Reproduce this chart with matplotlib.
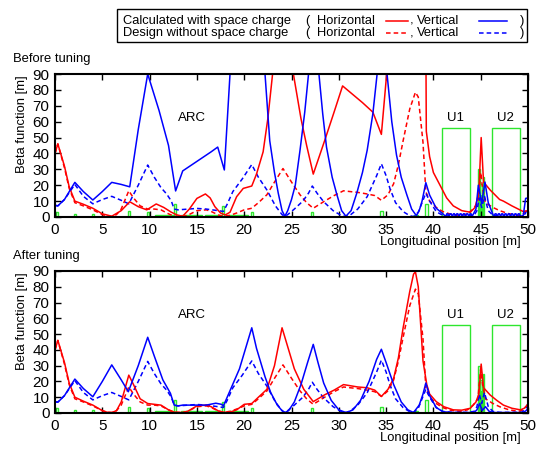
import numpy as np
import matplotlib.pyplot as plt
from matplotlib.lines import Line2D
from matplotlib.patches import Rectangle

# ——— beta functions: (s [m], beta [m]) ———
# design optics without space charge (same curve in both panels)
design_h = [
    (0.0, 40), (0.3, 46), (1.0, 31), (1.5, 18), (2.1, 9), (3.0, 7), (4.0, 4.5),
    (5.0, 1.5), (5.5, 0.5), (6.0, 0.3), (6.5, 1.5), (7.0, 5), (7.8, 16.5),
    (8.3, 12), (9.0, 7), (9.8, 5), (10.5, 5), (11.2, 4.5), (12.0, 2), (12.6, 0.5),
    (13.5, 0.3), (14.0, 1), (15.0, 4), (16.0, 4.5), (16.5, 3.5), (17.3, 1.2),
    (17.8, 0.5), (18.5, 1), (19.2, 2.5), (20.0, 4.5), (20.8, 5.5), (21.5, 9),
    (22.4, 14), (23.1, 21), (24.1, 30.5), (25.0, 22), (25.9, 14), (26.6, 9),
    (27.3, 5.5), (28.5, 10), (29.5, 13.5), (30.5, 16.5), (31.2, 16), (32.0, 15.5),
    (33.0, 14.5), (33.8, 13.5), (34.5, 10.5), (35.2, 14), (35.8, 21), (36.3, 33),
    (36.8, 48), (37.5, 68), (38.1, 78.5), (38.4, 75.5), (38.9, 47), (39.2, 16),
    (39.6, 10), (40.3, 6), (41.0, 3.4), (41.8, 1.8), (42.8, 1), (43.6, 2),
    (44.2, 5), (44.7, 9), (45.0, 28), (45.2, 18), (45.5, 9), (46.3, 6), (47.0, 4),
    (48.0, 2), (49.0, 1), (49.5, 2), (50.0, 5),
]
design_v = [
    (0.0, 7.2), (0.3, 7), (1.0, 11), (2.1, 20.5), (3.0, 13), (4.0, 8.3), (5.0, 11),
    (6.0, 13), (7.0, 10.5), (7.8, 8.3), (8.8, 20), (9.8, 32.7), (10.5, 25),
    (11.2, 18.5), (11.8, 14.5), (12.3, 10), (12.6, 5), (13.0, 4.5), (15.0, 5.4),
    (16.0, 5), (17.0, 4.2), (17.8, 3.5), (18.2, 8), (18.8, 16), (19.8, 24),
    (20.8, 33), (21.5, 25), (22.4, 17), (23.3, 7), (24.0, 1.5), (24.3, 0.3),
    (24.6, 1.5), (25.3, 5), (26.2, 10), (26.8, 15), (27.2, 19.5), (27.7, 15),
    (28.4, 9.6), (29.4, 4), (30.3, 0.8), (30.7, 0.3), (31.2, 1.2), (32.0, 5),
    (33.0, 12.8), (34.0, 26), (34.5, 33.5), (35.0, 26), (35.4, 18), (36.0, 9),
    (36.8, 3.4), (37.5, 0.8), (37.9, 0.3), (38.4, 3), (38.8, 9), (39.2, 15),
    (39.6, 10), (40.3, 3.4), (41.0, 1), (42.0, 0.4), (43.5, 0.4), (44.3, 1),
    (44.6, 4), (44.85, 12), (45.1, 6), (45.4, 13), (45.8, 4), (46.3, 1),
    (47.0, 0.4), (49.3, 0.4), (49.7, 2), (50.0, 6),
]

# calculated with space charge, before tuning
before_h = [
    (0.0, 40), (0.3, 46), (1.0, 32), (1.5, 19), (2.1, 10), (3.0, 8), (4.0, 5.5),
    (5.0, 2), (6.0, 0.5), (7.0, 4), (7.9, 9.6), (8.8, 6.5), (9.7, 4.5),
    (10.7, 8.2), (11.5, 6), (12.3, 3), (12.9, 1.3), (13.5, 0.5), (14.2, 5),
    (15.0, 11.7), (15.9, 14.5), (16.4, 12), (16.9, 6.5), (17.5, 2.5), (18.0, 1.3),
    (18.5, 3), (19.2, 12.8), (19.9, 18), (20.8, 19.5), (21.3, 27), (22.0, 41),
    (22.5, 62), (23.0, 90), (24.0, 160), (25.2, 90), (26.0, 62), (26.6, 45),
    (27.3, 27), (28.5, 48), (29.5, 66), (30.4, 82.5), (31.5, 77), (32.5, 72),
    (33.6, 66), (34.5, 52), (35.06, 90), (36.5, 200), (39.05, 300), (39.25, 54),
    (39.6, 38), (40.0, 28), (40.7, 20), (41.4, 12), (42.1, 7), (43.0, 4),
    (43.9, 3), (44.4, 6), (44.8, 15), (45.05, 50), (45.3, 22), (46.0, 17),
    (47.0, 11), (47.4, 10), (48.3, 7), (48.8, 5.5), (49.5, 3.4), (50.0, 4),
]
before_v = [
    (0.0, 7.5), (0.3, 7), (1.0, 11), (2.1, 21.8), (3.0, 16), (4.0, 10.7),
    (5.0, 16), (6.0, 21.8), (7.0, 20.5), (7.9, 19), (8.8, 55), (9.8, 90),
    (11.0, 67), (12.0, 45), (12.75, 16.4), (13.5, 29), (15.0, 35), (16.5, 41),
    (17.2, 44), (17.9, 29.6), (18.5, 90), (20.3, 250), (22.2, 90), (22.7, 48),
    (23.2, 28), (23.6, 15), (24.0, 4), (24.3, 0.5), (24.6, 4), (25.0, 11),
    (25.4, 20), (25.9, 42), (26.4, 66), (26.8, 90), (27.35, 150), (27.9, 90),
    (28.3, 65), (28.7, 44), (29.3, 25), (29.8, 14), (30.3, 4), (30.75, 0.5),
    (31.3, 4), (31.9, 15), (32.5, 28), (33.0, 42), (33.6, 65), (34.05, 90),
    (34.55, 150), (35.1, 90), (35.6, 60), (36.1, 39), (36.6, 25), (37.2, 13.8),
    (37.7, 5), (38.2, 0.8), (38.5, 4), (38.8, 10), (39.2, 21.6), (39.6, 13.8),
    (40.3, 5.5), (41.0, 2),
    # ripple inside U1
    (41.3, 0.3), (41.42, 2.0), (41.53, 2.0), (41.65, 0.3), (41.77, 2.0),
    (41.88, 2.0), (42.0, 0.3), (42.12, 2.0), (42.23, 2.0), (42.35, 0.3),
    (42.47, 2.0), (42.58, 2.0), (42.7, 0.3), (42.82, 2.0), (42.93, 2.0),
    (43.05, 0.3), (43.17, 2.0), (43.28, 2.0), (43.4, 0.3), (43.52, 2.0),
    (43.63, 2.0), (43.75, 0.3), (43.87, 2.0), (43.98, 2.0), (44.1, 0.5),
    (44.5, 5), (44.75, 20), (45.1, 8.6), (45.45, 22), (45.8, 9), (46.3, 1.5),
    # ripple inside U2
    (46.4, 0.3), (46.52, 2.0), (46.63, 2.0), (46.75, 0.3), (46.87, 2.0),
    (46.98, 2.0), (47.1, 0.3), (47.22, 2.0), (47.33, 2.0), (47.45, 0.3),
    (47.57, 2.0), (47.68, 2.0), (47.8, 0.3), (47.92, 2.0), (48.03, 2.0),
    (48.15, 0.3), (48.27, 2.0), (48.38, 2.0), (48.5, 0.3), (48.62, 2.0),
    (48.73, 2.0), (48.85, 0.3), (48.97, 2.0), (49.08, 2.0), (49.2, 0.3),
    (49.5, 1), (49.75, 11.7), (50.0, 12),
]

# calculated with space charge, after tuning
after_h = [
    (0.0, 40), (0.3, 46), (1.0, 32), (1.5, 19), (2.1, 10), (3.0, 7.5), (4.0, 5),
    (5.0, 1.5), (5.5, 0.5), (6.0, 0.3), (6.5, 1.5), (7.0, 7), (7.8, 24),
    (8.3, 18), (9.0, 9), (9.8, 6), (10.5, 5.5), (11.2, 5), (12.0, 2), (12.6, 0.5),
    (13.5, 0.3), (14.0, 1), (15.0, 4.5), (16.0, 5), (16.5, 4), (17.3, 1.2),
    (17.8, 0.5), (18.5, 0.5), (19.2, 2), (20.0, 5.5), (20.8, 6), (21.5, 10),
    (22.4, 15), (23.2, 30), (24.0, 54), (24.6, 42), (25.3, 28), (26.3, 15),
    (27.3, 7.2), (28.5, 11.5), (29.5, 14.5), (30.5, 18), (31.2, 17.3),
    (32.0, 16.5), (33.0, 16), (33.8, 14.5), (34.5, 10.5), (35.2, 15), (35.8, 22),
    (36.3, 35), (36.8, 54), (37.5, 77), (37.9, 88), (38.1, 89.5), (38.4, 80),
    (38.9, 33), (39.3, 18), (39.6, 12), (40.3, 7.2), (41.1, 4), (42.1, 2),
    (43.0, 1.8), (43.9, 3), (44.5, 7), (44.8, 12), (45.05, 31), (45.3, 16),
    (46.0, 11.4), (46.7, 8), (47.4, 5), (48.3, 3), (49.2, 2), (49.6, 3),
    (49.9, 5), (50.0, 6),
]
after_v = [
    (0.0, 7), (0.3, 6.8), (1.0, 11), (2.1, 21.5), (3.0, 15.5), (4.0, 10.3),
    (5.0, 20), (6.0, 30.5), (7.0, 21), (7.75, 13.5), (8.8, 30), (9.8, 48),
    (10.5, 36), (11.4, 21), (12.2, 12.5), (12.6, 5), (13.0, 4.5), (13.5, 5),
    (15.0, 5), (16.0, 5), (17.0, 6.2), (17.6, 5.5), (17.8, 4.5), (18.2, 10),
    (18.85, 19), (19.5, 28), (20.3, 44), (20.8, 54), (21.3, 41), (22.2, 23),
    (22.8, 13), (23.5, 5), (24.0, 1.5), (24.3, 0.3), (24.7, 1.5), (25.3, 7),
    (26.0, 18), (26.7, 32), (27.3, 43.5), (27.8, 32), (28.4, 19), (29.2, 8),
    (30.0, 2), (30.8, 0.2), (31.5, 2), (32.3, 8), (33.2, 20), (34.0, 34),
    (34.5, 40.4), (35.0, 32), (35.8, 18), (36.6, 7), (37.3, 2), (37.9, 0.3),
    (38.5, 5), (38.9, 12), (39.2, 19), (39.6, 11), (40.3, 3.5), (41.0, 0.8),
    (42.0, 0.3), (44.3, 0.3), (44.6, 2), (44.9, 6), (45.15, 1.5), (45.5, 4),
    (45.9, 1), (46.5, 0.3), (49.5, 0.3), (49.8, 1.5), (50.0, 3),
]

# lattice layout (green outline boxes): start [m], length [m], height
elem_start = [0.1, 2.0, 3.9, 7.7, 9.7, 10.6, 12.55, 13.3, 15.9, 17.7, 18.3,
              20.7, 27.1, 34.4, 37.9, 39.15, 40.9, 44.7, 44.95, 45.2, 46.2]
elem_len = [0.25, 0.2, 0.2, 0.25, 0.25, 2.0, 0.2, 2.2, 1.6, 0.2, 2.1,
            0.2, 0.2, 0.25, 0.5, 0.25, 3.0, 0.2, 0.15, 0.2, 3.0]
elem_height = [3, 2, 2, 4, 3, 1, 8, 1, 1, 7, 1,
               3, 3, 4, 1, 8, 56, 30, 21, 25, 56]
# dense magnet block around s = 45 m drawn filled
core_start = [44.8]
core_len = [0.55]
core_height = [14]

labels = [('ARC', 14.5, 62), ('U1', 42.3, 62), ('U2', 47.6, 62)]

# ——— style ———
RED = '#ff0000'
BLUE = '#0000ff'
GREEN = '#2ee62e'
DASH = (0, (3, 2))
LW = 1.1
W, H = 547, 450

plt.rcParams.update({
    'font.family': ['Liberation Sans', 'DejaVu Sans'],
    'axes.linewidth': 1.5,
})

fig = plt.figure(figsize=(W / 100, H / 100), dpi=100)


def fx(px):
    return px / W


def fy(py):
    return 1 - py / H


def draw_panel(ax, calc_h, calc_v):
    ax.bar(elem_start, elem_height, width=elem_len, align='edge', fill=False,
           edgecolor=GREEN, linewidth=1.0, zorder=1)
    ax.bar(core_start, core_height, width=core_len, align='edge',
           color=GREEN, linewidth=0, zorder=1)
    for data, col, ls in [(design_h, RED, DASH), (design_v, BLUE, DASH),
                          (calc_h, RED, '-'), (calc_v, BLUE, '-')]:
        s, beta = np.array(data).T
        ax.plot(s, beta, color=col, ls=ls, lw=LW, zorder=2)
    for txt, xs, yb in labels:
        ax.text(xs, yb, txt, ha='center', va='center', fontsize=9.5)
    ax.set_xlim(0, 50)
    ax.set_ylim(0, 90)
    ax.set_xticks(np.arange(0, 51, 5))
    ax.set_yticks(np.arange(0, 91, 10))
    ax.tick_params(direction='in', top=True, right=True, length=4, width=1,
                   labelsize=11, pad=4)
    ax.set_ylabel('Beta function [m]', fontsize=9.4, va='center')
    ax.yaxis.set_label_coords(-0.07, 0.65)
    ax.set_xlabel('Longitudinal position [m]', fontsize=9.4, ha='right', va='center')
    ax.xaxis.set_label_coords(0.985, -0.178)


ax1 = fig.add_axes([fx(55), fy(217), fx(528) - fx(55), (217 - 74) / H])
draw_panel(ax1, before_h, before_v)
ax2 = fig.add_axes([fx(55), fy(413), fx(528) - fx(55), (413 - 271) / H])
draw_panel(ax2, after_h, after_v)

fig.text(fx(13), fy(59), 'Before tuning', fontsize=9.4, va='center')
fig.text(fx(13), fy(256), 'After tuning', fontsize=9.4, va='center')

# ——— legend drawn by hand (gnuplot style) ———
fig.add_artist(Rectangle((fx(117), fy(42)), fx(527) - fx(117), (42 - 9) / H,
                         transform=fig.transFigure, fill=False,
                         edgecolor='black', linewidth=1.0))
rows = [(20.7, 'Calculated with space charge', '-'),
        (33.3, 'Design without space charge', DASH)]
for py, title, ls in rows:
    kw = dict(fontsize=9.3, va='center')
    fig.text(fx(123), fy(py), title, **kw)
    fig.text(fx(305), fy(py), '(', **kw)
    fig.text(fx(316.5), fy(py), 'Horizontal', **kw)
    fig.text(fx(409.5), fy(py), ',', **kw)
    fig.text(fx(416.5), fy(py), 'Vertical', **kw)
    fig.text(fx(520), fy(py), ')', **kw)
    fig.add_artist(Line2D([fx(385.7), fx(408.3)], [fy(py), fy(py)],
                          transform=fig.transFigure, color=RED, lw=LW, ls=ls))
    fig.add_artist(Line2D([fx(479.3), fx(507.3)], [fy(py), fy(py)],
                          transform=fig.transFigure, color=BLUE, lw=LW, ls=ls))

fig.savefig('out.png', dpi=100, facecolor='white')
